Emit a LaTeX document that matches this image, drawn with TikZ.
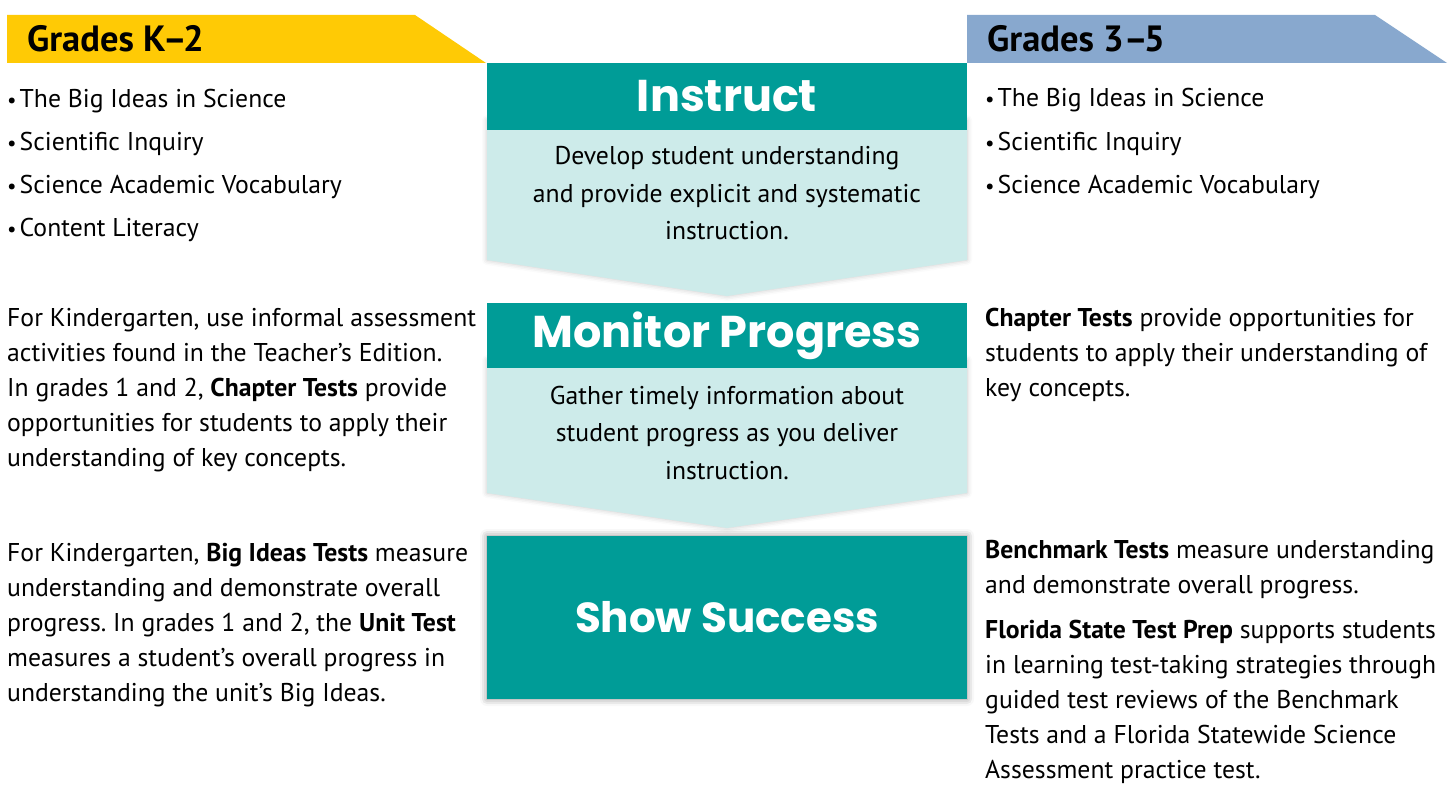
\documentclass[tikz,border=0pt]{standalone}
\usepackage{fontspec}
\setmainfont{PT Sans}
\newfontfamily\headfont{Poppins}
\usetikzlibrary{shadows.blur}
\frenchspacing

\definecolor{kteal}{HTML}{009C97}
\definecolor{paleteal}{HTML}{CDEBEA}
\definecolor{gold}{HTML}{FFCA05}
\definecolor{steel}{HTML}{88A8CE}

% small list bullet with a tight gap
\newcommand\lbul{{\fontsize{21}{21}\selectfont\textbullet}\kern3pt}

% multi-line text nodes are placed by the baseline of their last line
\tikzset{
  body/.style={font=\fontsize{25.7}{35}\selectfont, inner sep=0pt, align=left, anchor=base west},
  bullets/.style={body, font=\fontsize{25.7}{43.3}\selectfont},
  centre/.style={font=\fontsize{25.7}{37.5}\selectfont, inner sep=0pt, align=center, anchor=base},
  banner/.style={font=\fontsize{36.5}{40}\selectfont\bfseries, inner sep=0pt, anchor=base west},
  headbox/.style={fill=kteal, text=white, font=\headfont\bfseries\fontsize{44.5}{50}\selectfont,
                  minimum width=480pt, inner sep=0pt, outer sep=0pt},
  soft/.style={blur shadow={shadow xshift=0pt, shadow yshift=0pt, shadow blur radius=5pt, shadow opacity=22}},
  strong/.style={blur shadow={shadow xshift=0pt, shadow yshift=0pt, shadow blur radius=7pt, shadow opacity=45}}
}

\begin{document}
\begin{tikzpicture}[x=1pt,y=-1pt]
\useasboundingbox (0,0) rectangle (1453,794);

% grade banners
\fill[gold]  (7,15) -- (415,15) -- (486,63) -- (7,63) -- cycle;
\fill[steel] (967,15) -- (1375,15) -- (1447,63) -- (967,63) -- cycle;
\node[banner] (gk2) at (27,52) {Grades K--\kern-4pt2};
\node[banner] (g35) at (987,52) {Grades 3--\kern-4pt5};

% pale arrow bodies under the stage headers
\path[fill=paleteal, soft] (487,120) -- (967,120) -- (967,260) -- (727,296) -- (487,260) -- cycle;
\path[fill=paleteal, soft] (487,360) -- (967,360) -- (967,493) -- (727,528) -- (487,493) -- cycle;

% stage headers
\node[headbox, minimum height=67pt] (instruct) at (727,96.5) {Instruct};
\node[headbox, minimum height=65pt] (monitor) at (727,335.5) {Monitor Progress};
\node[headbox, minimum height=163pt, strong, font=\headfont\bfseries\fontsize{42}{48}\selectfont] (success) at (727,617.5) {Show Success};

% stage descriptions
\node[centre] (instructtxt) at (727,240) {Develop student understanding\\and provide explicit and systematic\\instruction.};
\node[centre] (monitortxt) at (727,479) {Gather timely information about\\student progress as you deliver\\instruction.};

% grades K-2 column
\node[bullets] (kbul) at (7,237) {\lbul The Big Ideas in Science\\\lbul Scientific Inquiry\\\lbul Science Academic Vocabulary\\\lbul Content Literacy};
\node[body] (kmon) at (7,466) {For Kindergarten, use informal assessment\\activities found in the Teacher’s Edition.\\In grades 1 and 2, \textbf{Chapter Tests} provide\\opportunities for students to apply their\\understanding of key concepts.};
\node[body] (ksuc) at (7,701) {For Kindergarten, \textbf{Big Ideas Tests} measure\\understanding and demonstrate overall\\progress. In grades 1 and 2, the \textbf{Unit Test}\\measures a student’s overall progress in\\understanding the unit’s Big Ideas.};

% grades 3-5 column
\node[bullets] (gbul) at (985,193.6) {\lbul The Big Ideas in Science\\\lbul Scientific Inquiry\\\lbul Science Academic Vocabulary};
\node[body] (gmon) at (985,396) {\textbf{Chapter Tests} provide opportunities for\\students to apply their understanding of\\key concepts.};
\node[body] (gsuc) at (985,593) {\textbf{Benchmark Tests} measure understanding\\and demonstrate overall progress.};
\node[body] (gprep) at (985,778) {\textbf{Florida State Test Prep} supports students\\in learning test-taking strategies through\\guided test reviews of the Benchmark\\Tests and a Florida Statewide Science\\Assessment practice test.};
\end{tikzpicture}
\end{document}
